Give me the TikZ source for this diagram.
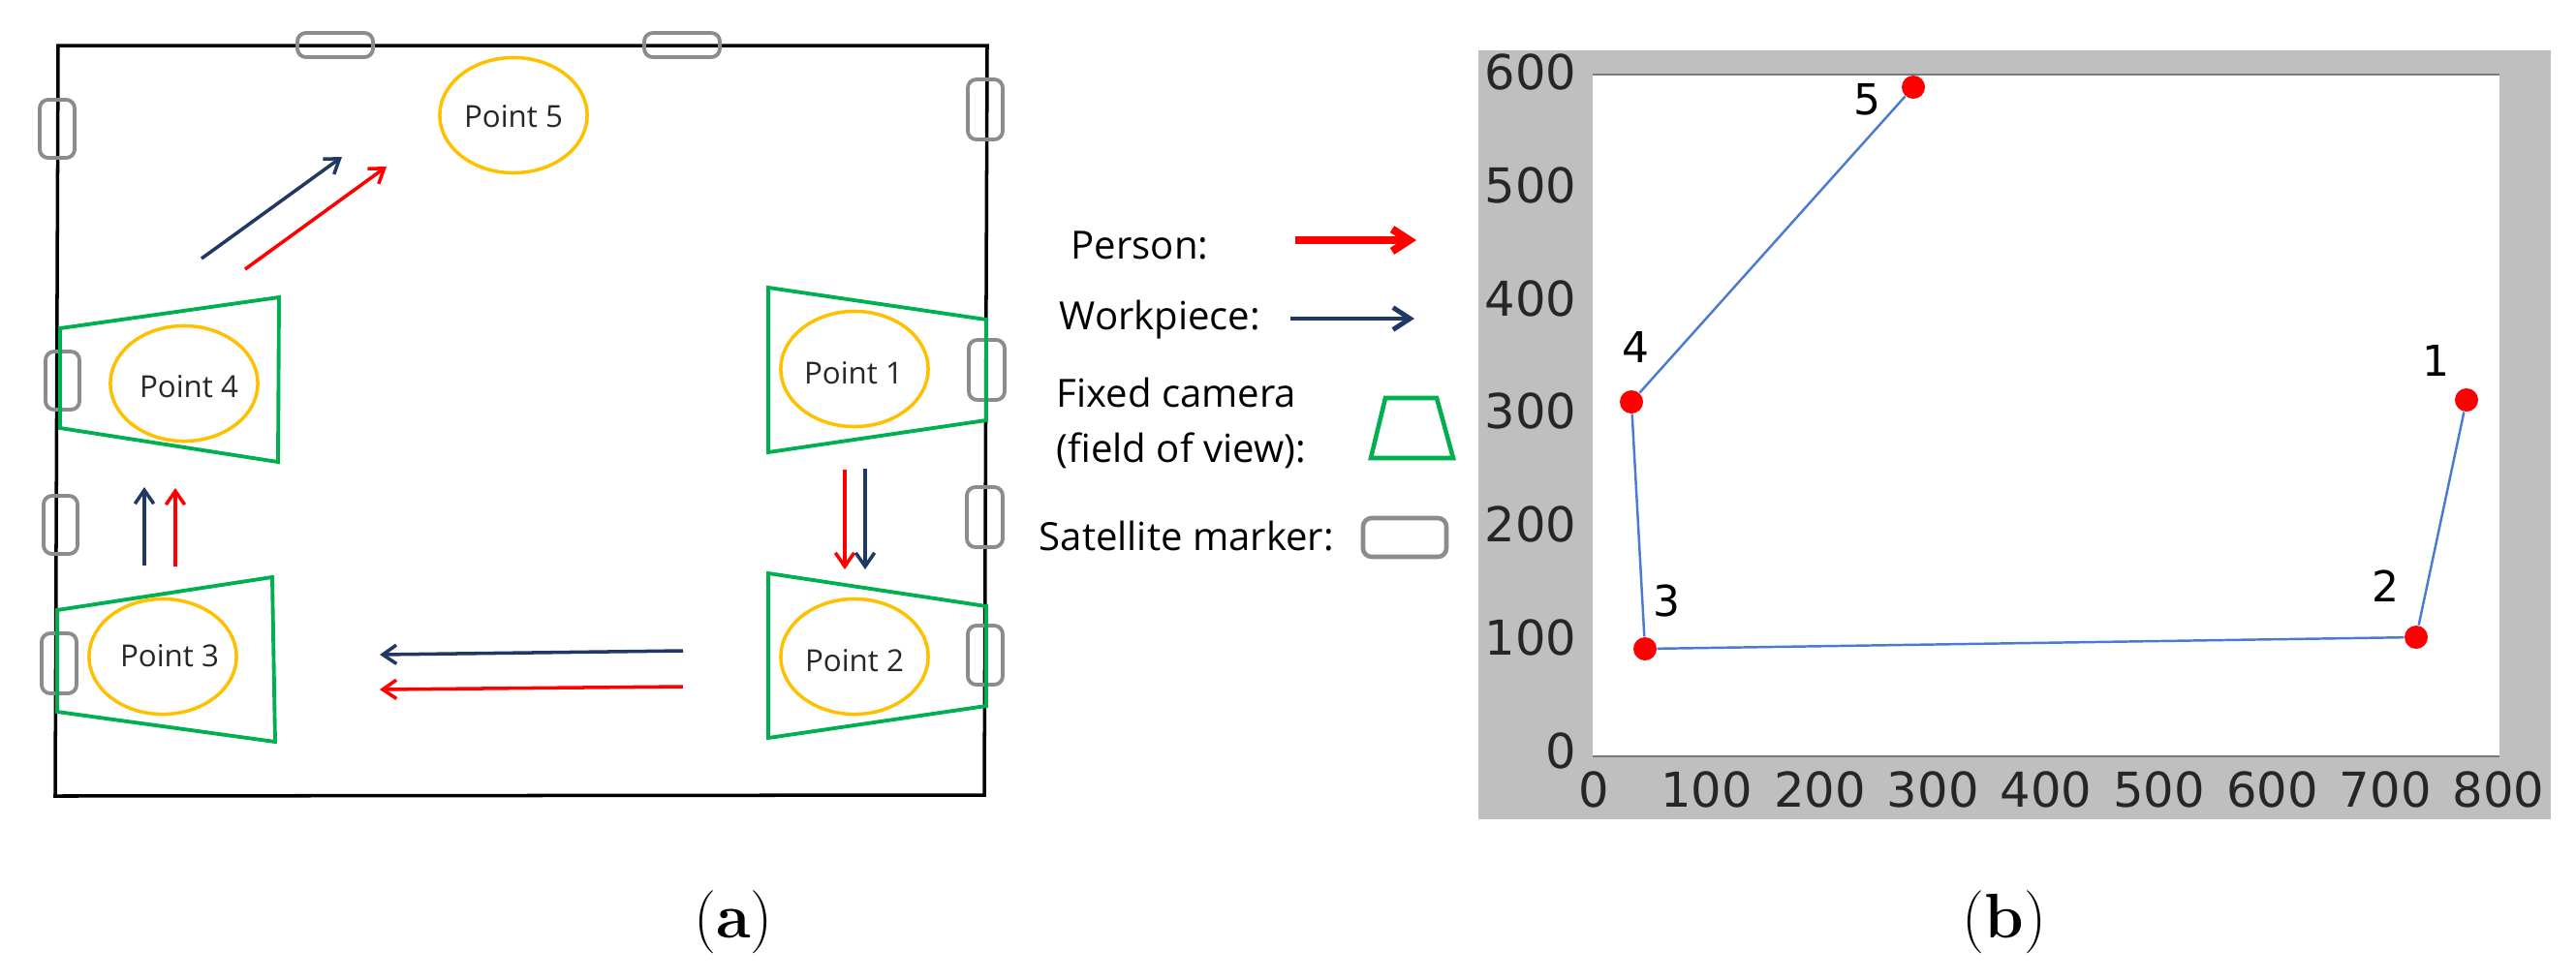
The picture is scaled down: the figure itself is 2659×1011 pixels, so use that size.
\documentclass[tikz,border=0pt]{standalone}
\usepackage{fontspec}
\newfontfamily\osans{Open Sans}
\newfontfamily\dvs{DejaVu Sans}
\usetikzlibrary{arrows.meta,shapes.geometric}
\definecolor{camgreen}{HTML}{00B050}
\definecolor{ptyellow}{HTML}{FFC000}
\definecolor{wpblue}{HTML}{203864}
\definecolor{psred}{HTML}{FF0000}
\definecolor{markgray}{HTML}{8C8C8C}
\definecolor{plotgray}{HTML}{BFBFBF}
\definecolor{spinegray}{HTML}{7A7A7A}
\definecolor{plotline}{HTML}{4A7BD0}
\definecolor{txtdark}{HTML}{262626}
\begin{document}
\begin{tikzpicture}[x=0.01cm,y=-0.01cm,
  room/.style={draw=black,line width=1pt},
  satmark/.style={draw=markgray,line width=1.1pt,rounded corners=2.5pt},
  camfov/.style={draw=camgreen,line width=1.1pt,line join=miter},
  ptell/.style={ellipse,draw=ptyellow,line width=1pt,minimum width=1.52cm,minimum height=1.19cm,inner sep=0pt},
  ptlbl/.style={font=\osans\fontsize{8.9}{10}\selectfont,text=txtdark,inner sep=0pt},
  flowr/.style={draw=psred,line width=1pt,-{Straight Barb[length=4pt,width=5.5pt]}},
  floww/.style={draw=wpblue,line width=1pt,-{Straight Barb[length=4pt,width=5.5pt]}},
  legtxt/.style={font=\osans\fontsize{11.4}{14}\selectfont,anchor=base west,inner sep=0pt},
  ticklbl/.style={font=\dvs\fontsize{14.1}{16}\selectfont,text=txtdark,inner sep=0pt},
  numlbl/.style={font=\dvs\fontsize{12.5}{14}\selectfont,inner sep=0pt},
  reddot/.style={circle,fill=psred,minimum size=0.24cm,inner sep=0pt},
  trackline/.style={draw=plotline,line width=0.7pt},
  subcap/.style={font=\fontsize{18.5}{22}\selectfont,inner sep=0pt}
]
\useasboundingbox (0,0) rectangle (2659,1011);

% ---------- (a) room ----------
\draw[room] (60,47) -- (1019,47) -- (1016,821) -- (57,822) -- cycle;

% satellite markers
\draw[satmark] (307,34) rectangle (385,59);
\draw[satmark] (665,34) rectangle (743,59);
\draw[satmark] (41,103) rectangle (77,163);
\draw[satmark] (47,363) rectangle (82,423);
\draw[satmark] (45,512) rectangle (80,572);
\draw[satmark] (43,654) rectangle (79,716);
\draw[satmark] (999,82) rectangle (1035,144);
\draw[satmark] (1000,351) rectangle (1037,413);
\draw[satmark] (998,503) rectangle (1035,565);
\draw[satmark] (999,646) rectangle (1035,707);

% cameras (field of view)
\draw[camfov] (62,339) -- (288,307) -- (287,477) -- (62,442) -- cycle;
\draw[camfov] (793,297) -- (1018,330) -- (1018,434) -- (793,467) -- cycle;
\draw[camfov] (59,630) -- (281,596) -- (284,766) -- (59,735) -- cycle;
\draw[camfov] (793,592) -- (1018,626) -- (1018,729) -- (793,762) -- cycle;

% points
\node[ptell] (e5) at (530,119) {};
\node[ptell] (e4) at (190,396) {};
\node[ptell] (e1) at (882,381) {};
\node[ptell] (e3) at (168,678) {};
\node[ptell] (e2) at (882,678) {};
\node[ptlbl] (l5) at (530,120) {Point 5};
\node[ptlbl] (l4) at (195,399) {Point 4};
\node[ptlbl] (l1) at (881,385) {Point 1};
\node[ptlbl] (l3) at (175,677) {Point 3};
\node[ptlbl] (l2) at (882,682) {Point 2};

% flow arrows
\coordinate (a45w0) at (208,267); \coordinate (a45w1) at (353,162);
\coordinate (a45p0) at (253,278); \coordinate (a45p1) at (399,172);
\coordinate (a34w0) at (149,584); \coordinate (a34w1) at (149,503);
\coordinate (a34p0) at (181,585); \coordinate (a34p1) at (181,504);
\coordinate (a12p0) at (872,485); \coordinate (a12p1) at (872,588);
\coordinate (a12w0) at (893,484); \coordinate (a12w1) at (893,588);
\coordinate (a23w0) at (705,672); \coordinate (a23w1) at (392,676);
\coordinate (a23p0) at (705,709); \coordinate (a23p1) at (392,712);
\draw[floww] (a45w0) -- (a45w1);
\draw[flowr] (a45p0) -- (a45p1);
\draw[floww] (a34w0) -- (a34w1);
\draw[flowr] (a34p0) -- (a34p1);
\draw[flowr] (a12p0) -- (a12p1);
\draw[floww] (a12w0) -- (a12w1);
\draw[floww] (a23w0) -- (a23w1);
\draw[flowr] (a23p0) -- (a23p1);

% ---------- legend ----------
\node[legtxt] (lgp) at (1105,267) {Person:};
\coordinate (lgp0) at (1337,248); \coordinate (lgp1) at (1462,248);
\draw[draw=psred,line width=2.3pt,-{Straight Barb[length=5pt,width=6.5pt]}] (lgp0) -- (lgp1);
\node[legtxt] (lgw) at (1093,340) {Workpiece:};
\coordinate (lgw0) at (1332,329); \coordinate (lgw1) at (1460,329);
\draw[draw=wpblue,line width=1.4pt,-{Straight Barb[length=5pt,width=6.5pt]}] (lgw0) -- (lgw1);
\node[legtxt] (lgc1) at (1090,420) {Fixed camera};
\node[legtxt] (lgc2) at (1090,477) {(field of view):};
\draw[camfov,line width=1.3pt] (1430,411) -- (1483,411) -- (1500,473) -- (1415,473) -- cycle;
\node[legtxt] (lgs) at (1072,568) {Satellite marker:};
\draw[satmark,line width=1.3pt] (1407,535) rectangle (1493,575);

% ---------- (b) plot ----------
\fill[plotgray] (1526,52) rectangle (2633,846);
\fill[white] (1644,77) rectangle (2580,781);
\draw[spinegray,line width=0.8pt] (1644,77) -- (2580,77);
\draw[spinegray,line width=0.8pt] (1644,781) -- (2580,781);
\foreach \k/\v in {0/0,1/100,2/200,3/300,4/400,5/500,6/600,7/700,8/800}
  \node[ticklbl] (xt\k) at ({1645+116.75*\k},815) {\v};
\foreach \k/\v in {0/0,1/100,2/200,3/300,4/400,5/500,6/600}
  \node[ticklbl,anchor=east] (yt\k) at (1628,{775-116.7*\k}) {\v};

\node[reddot] (d1) at (2546,413) {};
\node[reddot] (d2) at (2494,658) {};
\node[reddot] (d3) at (1698,670) {};
\node[reddot] (d4) at (1684,415) {};
\node[reddot] (d5) at (1975,90) {};
\draw[trackline] (d5) -- (d4) -- (d3) -- (d2) -- (d1);
\node[numlbl] (n1) at (2514,372) {1};
\node[numlbl] (n2) at (2462,605) {2};
\node[numlbl] (n3) at (1720,620) {3};
\node[numlbl] (n4) at (1688,358) {4};
\node[numlbl] (n5) at (1927,103) {5};

% captions
\node[subcap] (capa) at (757,952) {(\textbf{a})};
\node[subcap] (capb) at (2069,952) {(\textbf{b})};
\end{tikzpicture}
\end{document}
